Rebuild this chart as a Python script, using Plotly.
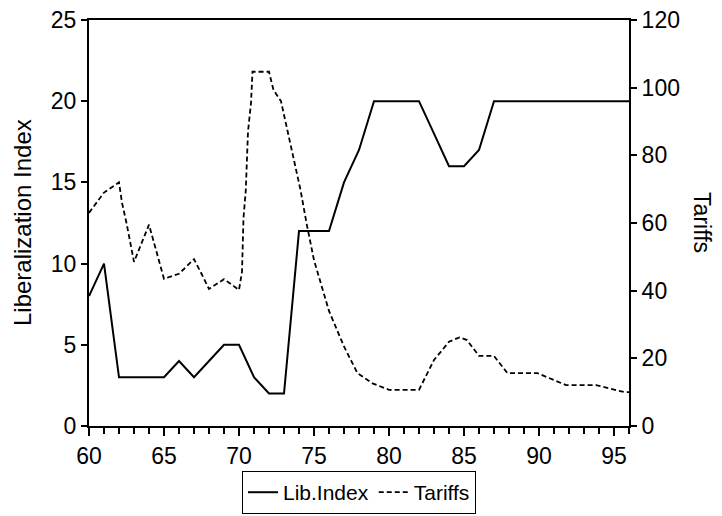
import plotly.graph_objects as go

# Lib.Index: annual values 1960-1996
lib_years = list(range(60, 97))
lib_index = [8, 10, 3, 3, 3, 3, 4, 3, 4, 5, 5, 3, 2, 2, 12, 12, 12, 15, 17, 20,
             20, 20, 20, 18, 16, 16, 17, 20, 20, 20, 20, 20, 20, 20, 20, 20, 20]

# Tariffs: breakpoints (sub-annual)
tariff_years = [60.0, 61.0, 62.0, 62.2, 62.5, 63.0, 64.0, 65.0, 66.0, 67.0, 67.5,
                68.0, 69.0, 70.0, 70.2, 70.3, 70.45, 70.6, 70.8, 70.9, 72.0, 72.3,
                72.8, 74.1, 74.5, 75.0, 76.0, 77.0, 77.9, 78.9, 80.0, 82.0, 83.0,
                84.0, 84.7, 85.2, 86.0, 87.0, 87.9, 89.9, 91.8, 93.8, 95.7, 96.0]
tariffs = [63, 69, 72, 66, 60, 48.5, 59.5, 43.5, 45, 49.3, 45,
           40.5, 43.4, 40.2, 45.6, 61.5, 69.5, 87, 95.5, 104.7, 104.7, 99.3,
           96, 69.8, 60, 49, 34, 23.5, 15.6, 12.6, 10.7, 10.7, 19.5,
           24.9, 26.2, 25.4, 20.7, 20.7, 15.6, 15.6, 12.1, 12.1, 10, 10]

x_ticks = [60, 65, 70, 75, 80, 85, 90, 95]
left_ticks = [0, 5, 10, 15, 20, 25]
right_ticks = [0, 20, 40, 60, 80, 100, 120]

FONT = "Liberation Sans, Arial, sans-serif"
BLACK = "#000000"
FS = 23

fig = go.Figure()
fig.add_trace(go.Scatter(
    x=lib_years, y=lib_index, name="Lib.Index", mode="lines",
    line=dict(color=BLACK, width=2),
))
fig.add_trace(go.Scatter(
    x=tariff_years, y=tariffs, name="Tariffs", mode="lines", yaxis="y2",
    line=dict(color=BLACK, width=1.8, dash="5px,3px"),
))

axis_common = dict(showgrid=False, zeroline=False, showline=True, linecolor=BLACK,
                   linewidth=2, ticks="outside", tickcolor=BLACK, tickwidth=2,
                   ticklen=6, tickfont=dict(size=FS, color=BLACK),
                   ticklabeloverflow="allow")

# page body has an 8px margin, so the figure is a bit smaller than the window
fig.update_layout(
    width=714, height=508,
    paper_bgcolor="white", plot_bgcolor="white",
    font=dict(family=FONT, color=BLACK, size=FS),
    margin=dict(l=81, r=93, t=12, b=90, autoexpand=False),
    showlegend=True,
    legend=dict(orientation="h", x=0.5, xanchor="center", y=-0.111, yanchor="top",
                bordercolor=BLACK, borderwidth=1, bgcolor="white",
                font=dict(size=21, color=BLACK), itemwidth=30,
                tracegroupgap=0),
    xaxis=dict(axis_common, range=[60, 96], tickvals=x_ticks, mirror=True,
               ticklen=8,
               minor=dict(dtick=1, tick0=60, ticks="outside", ticklen=6,
                          tickwidth=2, tickcolor=BLACK)),
    yaxis=dict(axis_common, range=[0, 25], tickvals=left_ticks),
    yaxis2=dict(axis_common, range=[0, 120], tickvals=right_ticks,
                overlaying="y", side="right"),
)

fig.add_annotation(text="Liberalization Index", xref="paper", yref="paper",
                   x=-0.124, y=0.5, xanchor="center", yanchor="middle",
                   textangle=-90, showarrow=False, font=dict(size=24, color=BLACK))
# right-hand title reads top-to-bottom
fig.add_annotation(text="Tariffs", xref="paper", yref="paper", x=1.135, y=0.5,
                   xanchor="center", yanchor="middle",
                   textangle=90, showarrow=False, font=dict(size=23, color=BLACK))

fig.write_html("out.html")
